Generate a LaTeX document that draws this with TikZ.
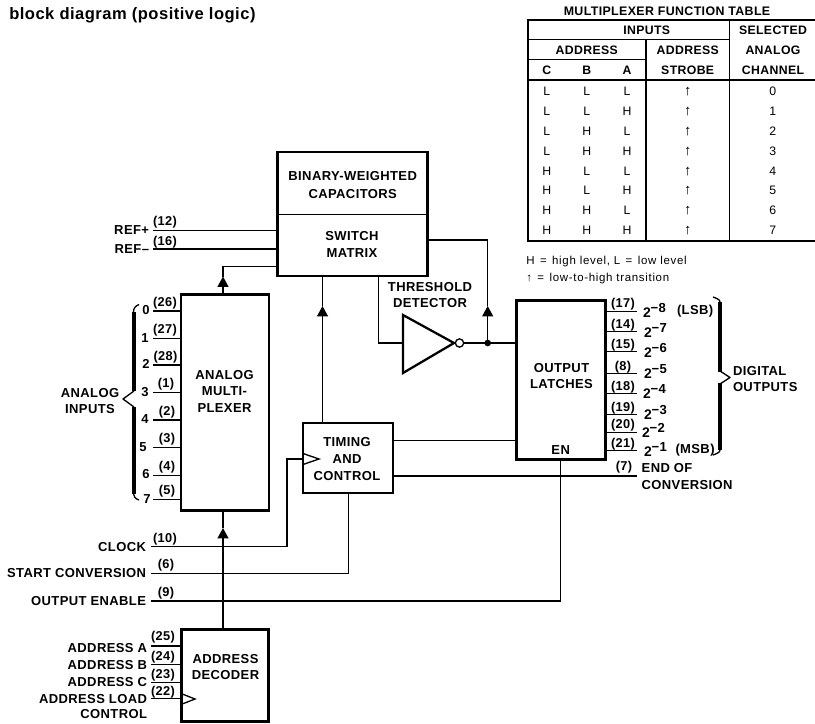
\documentclass[tikz,border=0pt]{standalone}
\usepackage{fontspec}
\setmainfont{Liberation Sans}[LetterSpace=3]
\usetikzlibrary{arrows.meta}
\newcommand{\labfont}{\fontsize{9.75}{12.4}\selectfont\bfseries}
\newcommand{\pinfont}{\fontsize{9.6}{12}\selectfont\bfseries}
\newcommand{\cellfont}{\fontsize{9.2}{12}\selectfont}
\newcommand{\headfont}{\fontsize{9.2}{12}\selectfont\bfseries}
\newcommand{\notefont}{\fontsize{8.6}{11}\selectfont\addfontfeature{LetterSpace=6}}
\newcommand{\expo}[2]{{\fontsize{10.4}{12}\selectfont\bfseries 2}\raisebox{3.8pt}{\fontsize{9.8}{10}\selectfont\bfseries−#1}#2}
\tikzset{
  x=0.75pt,y=-0.75pt,
  block/.style={draw=black,line width=2.2pt,fill=white,outer sep=0pt,inner sep=0pt,align=center,font=\labfont},
  wire/.style={draw=black,line width=1pt},
  upflow/.style={wire,-{Triangle[width=8.2pt,length=7.8pt]}},
  lab/.style={inner sep=0pt,outer sep=0pt,font=\labfont,text height=7pt,text depth=0pt},
  hlab/.style={inner sep=0pt,outer sep=0pt,font=\headfont,text height=6.8pt,text depth=0pt},
  mlab/.style={inner sep=0pt,outer sep=0pt,font=\labfont,align=center},
  pinnum/.style={inner sep=0pt,outer sep=0pt,font=\pinfont,text height=7pt,text depth=0pt},
  cell/.style={inner sep=0pt,outer sep=0pt,font=\cellfont,text height=6.8pt,text depth=0pt},
  rule/.style={draw=black,line width=1pt},
  bracebar/.style={draw=black,line width=3pt},
  bracetip/.style={draw=black,line width=1pt,line join=round},
}
\begin{document}
\begin{tikzpicture}
\fill[white] (0,0) rectangle (815,724);
\useasboundingbox (0,0) rectangle (815,724);

% title
\node[anchor=west,inner sep=0pt,font=\fontsize{12.4}{14}\selectfont\bfseries] (title) at (9,15) {block diagram (positive logic)};

% blocks
\node[block,minimum width=149.5*0.75pt,minimum height=124*0.75pt] (sm) at (352.7,214) {};
\node[lab] (cap1) at (352.7,176) {BINARY-WEIGHTED};
\node[lab] (cap2) at (352.7,193.5) {CAPACITORS};
\node[lab] (sw1) at (352,236) {SWITCH};
\node[lab] (sw2) at (352,252.5) {MATRIX};
\draw[wire] (sm.west |- 0,214.7) -- (sm.east |- 0,214.7);

\node[block,minimum width=88*0.75pt,minimum height=216.5*0.75pt] (mux) at (225,402.3) {};
\node[mlab] (muxt) at (224.5,391) {ANALOG\\MULTI-\\PLEXER};

\node[block,minimum width=90*0.75pt,minimum height=70*0.75pt] (tim) at (348,458) {};
\node[mlab] (timt) at (347,459) {TIMING\\AND\\CONTROL};

\node[block,minimum width=88.5*0.75pt,minimum height=158.5*0.75pt] (lat) at (561,380) {};
\node[mlab] (latt) at (561.5,376) {OUTPUT\\LATCHES};
\node[lab] (en) at (560.7,450) {EN};

\node[block,minimum width=87.5*0.75pt,minimum height=92.5*0.75pt] (dec) at (225,675.5) {};
\node[mlab] (dect) at (225.5,667) {ADDRESS\\DECODER};

% reference lines
\coordinate (refp) at (153,230.7);
\coordinate (refm) at (153,249);
\draw[wire] (refp) -- (refp -| sm.west);
\draw[wire] (refm) -- (refm -| sm.west);
\node[lab,anchor=east] (refpl) at (149,230) {REF+};
\node[lab,anchor=east] (refml) at (149,249) {REF--};
\node[pinnum] (p12) at (165,221) {(12)};
\node[pinnum] (p16) at (165,240.5) {(16)};

% mux to switch matrix
\coordinate (muxbend) at (223,266.7);
\coordinate (muxtip) at (223,276.5);
\draw[upflow] (mux.north -| muxbend) -- (muxtip);
\draw[wire] (muxtip) -- (muxbend) -- (muxbend -| sm.west);

% timing to switch matrix
\coordinate (timtip) at (322.5,306);
\draw[upflow] (tim.north -| timtip) -- (timtip);
\draw[wire] (timtip) -- (sm.south -| timtip);

% threshold detector
\coordinate (thin) at (403,343);
\coordinate (thtop) at (403,315);
\coordinate (thbot) at (403,373);
\coordinate (thtip) at (454,343);
\draw[draw=black,line width=1.7pt,line join=miter] (thtop) -- (thtip) -- (thbot) -- cycle;
\node[draw=black,line width=1pt,circle,minimum size=6.2pt,inner sep=0pt,outer sep=0pt,fill=white] (bub) at (459.5,343) {};
\coordinate (thbend) at (378.7,343);
\draw[wire] (sm.south -| thbend) -- (thbend) -- (thin);
\draw[wire] (bub.east) -- (bub.east -| lat.west);
\node[fill=black,circle,minimum size=5pt,inner sep=0pt,outer sep=0pt] (junc) at (487.7,343) {};
\coordinate (fbtip) at (487.7,306);
\coordinate (fbbend) at (487.7,240);
\draw[upflow] (junc) -- (fbtip);
\draw[wire] (fbtip) -- (fbbend) -- (fbbend -| sm.east);
\node[mlab] (thl) at (430,295) {THRESHOLD\\DETECTOR};

% timing links
\coordinate (tmr1) at (393,440.7);
\draw[wire] (tmr1) -- (tmr1 -| lat.west);
\coordinate (tmr2) at (393,476);
\coordinate (eoc) at (636.7,476);
\draw[wire] (tmr2) -- (eoc);
\node[pinnum] (p7) at (624,466) {(7)};
\node[lab,anchor=west] (eoc1) at (641.7,468) {END OF};
\node[lab,anchor=west] (eoc2) at (641.7,485) {CONVERSION};

% clock
\coordinate (clk) at (151,546.7);
\coordinate (clkb) at (287,546.7);
\coordinate (clkc) at (287,459);
\draw[wire] (clk) -- (clkb) -- (clkc) -- (clkc -| tim.west);
\draw[wire] (303,453.5) -- (319,459) -- (303,464.5);
\node[lab,anchor=east] (clkl) at (146,546.5) {CLOCK};
\node[pinnum] (p10) at (165,538) {(10)};

% start conversion
\coordinate (stc) at (151,573.5);
\coordinate (stcb) at (348.7,573.5);
\draw[wire] (stc) -- (stcb) -- (stcb |- tim.south);
\node[lab,anchor=east] (stcl) at (146,573) {START CONVERSION};
\node[pinnum] (p6) at (166,564) {(6)};

% output enable
\coordinate (oen) at (151,601);
\coordinate (oenb) at (560.7,601);
\draw[wire] (oen) -- (oenb) -- (oenb |- lat.south);
\node[lab,anchor=east] (oenl) at (146,600.5) {OUTPUT ENABLE};
\node[pinnum] (p9) at (166,592) {(9)};

% decoder to mux
\coordinate (dectip) at (223,528);
\draw[upflow] (dec.north -| dectip) -- (dectip);
\draw[wire] (dectip) -- (mux.south -| dectip);

% analog inputs
\foreach \n/\y/\nx/\ny/\p/\px in {0/311/146/310/26/165,1/338.3/145/337.5/27/165,2/365/146/363.5/28/165.5,3/392.7/145/391.5/1/166,4/420/145/419/2/167,5/447.7/143/446.5/3/167,6/475.3/146/473.5/4/167,7/499.3/147/498.5/5/167}{
  \coordinate (ai\n) at (153,\y);
  \draw[wire] (ai\n) -- (ai\n -| mux.west);
  \node[lab] (ain\n) at (\nx,\ny) {\n};
  \node[pinnum] (aip\n) at (\px,\y-9.5) {(\p)};
}
\draw[bracebar] (133.5,312) -- (133.5,391);
\draw[bracebar] (133.5,407) -- (133.5,494);
\draw[bracetip] (139,304.5) .. controls (135.5,306) and (133.5,308) .. (133.5,312);
\draw[bracetip] (139,500) .. controls (135.5,498.5) and (133.5,497) .. (133.5,494);
\draw[bracetip] (134,391) -- (123,399) -- (134,407);
\node[mlab] (ail) at (90,401) {ANALOG\\INPUTS};

% decoder inputs
\foreach \k/\y/\p/\py/\t/\ty in {a/646/25/636/ADDRESS A/647.7,b/664.3/24/655.5/ADDRESS B/665,c/682.7/23/674/ADDRESS C/682,d/698.7/22/690.5/ADDRESS LOAD/699}{
  \coordinate (adr\k) at (151,\y);
  \draw[wire] (adr\k) -- (adr\k -| dec.west);
  \node[lab,anchor=east] (adl\k) at (147,\ty) {\t};
  \node[pinnum] (adp\k) at (163,\py) {(\p)};
}
\node[lab,anchor=east] (adlc2) at (147,714) {CONTROL};
\draw[wire] (181,693.5) -- (195,699) -- (181,704.5);

% digital outputs
\foreach \k/\y/\p/\py/\e/\x in {8/311.7/17/303/8/643,7/331.7/14/324/7/644,6/351.7/15/343.7/6/644,5/373.3/8/365.7/5/644,4/393.3/18/385.7/4/643,3/414.3/19/406.7/3/644,2/432.3/20/424/2/642,1/450.7/21/442.7/1/644}{
  \coordinate (do\k) at (636.7,\y);
  \draw[wire] (do\k -| lat.east) -- (do\k);
  \node[pinnum] (dop\k) at (623,\py) {(\p)};
  \node[lab,anchor=west] (dol\k) at (\x,\y+1) {\expo{\e}{}};
}
\node[lab,anchor=west] (lsb) at (677,310) {(LSB)};
\node[lab,anchor=west] (msb) at (675.5,449) {(MSB)};
\draw[bracebar] (720,302) -- (720,372);
\draw[bracebar] (720,383) -- (720,450);
\draw[bracetip] (713,297) .. controls (717,298.5) and (720,299.5) .. (720,302);
\draw[bracetip] (713,455) .. controls (717,453.5) and (720,452.5) .. (720,450);
\draw[bracetip] (720,371) -- (730,377.5) -- (720,384);
\node[lab,anchor=west] (dgl1) at (733,370.7) {DIGITAL};
\node[lab,anchor=west] (dgl2) at (733,386.7) {OUTPUTS};

% function table
\node[lab] (tbt) at (667,11) {\fontsize{9.3}{12}\selectfont MULTIPLEXER FUNCTION TABLE};
\draw[line width=1.25pt] (815,20) -- (528,20) -- (528,240.7) -- (815,240.7);
\draw[rule] (528,39.3) -- (729.7,39.3);
\draw[rule] (528,59.3) -- (646,59.3);
\draw[rule] (528,80) -- (815,80);
\draw[line width=1.1pt] (646,39.3) -- (646,240.7);
\draw[line width=1.1pt] (729.7,20) -- (729.7,240.7);
\node[hlab] (h1) at (646.7,30) {INPUTS};
\node[hlab] (h2) at (773,30) {SELECTED};
\node[hlab] (h3) at (586.7,50) {ADDRESS};
\node[hlab] (h4) at (687.7,50) {ADDRESS};
\node[hlab] (h5) at (773,50) {ANALOG};
\node[hlab] (h6) at (546.7,70) {C};
\node[hlab] (h7) at (586.7,70) {B};
\node[hlab] (h8) at (627,70) {A};
\node[hlab] (h9) at (687.7,70) {STROBE};
\node[hlab] (h10) at (773,70) {CHANNEL};
\foreach \c/\b/\a/\v/\y in {L/L/L/0/90.7,L/L/H/1/110.7,L/H/L/2/130.7,L/H/H/3/150.7,H/L/L/4/170.7,H/L/H/5/190,H/H/L/6/210,H/H/H/7/230}{
  \node[cell] (rc\v) at (546.7,\y) {\c};
  \node[cell] (rb\v) at (586.7,\y) {\b};
  \node[cell] (ra\v) at (627,\y) {\a};
  \node[cell,font=\fontsize{11}{12}\selectfont\bfseries] (rs\v) at (687.7,\y) {↑};
  \node[cell] (rn\v) at (772.7,\y) {\v};
}
\node[anchor=west,inner sep=0pt,font=\notefont,text height=6pt,text depth=0pt] (n1) at (526,260.7) {H\hspace{1.2pt} = \hspace{1.2pt}high level, L\hspace{1.2pt} = \hspace{1.2pt}low level};
\node[anchor=west,inner sep=0pt,font=\notefont,text height=6pt,text depth=0pt] (n2) at (526,277) {↑\hspace{1.2pt} = \hspace{1.2pt}low-to-high transition};
\end{tikzpicture}
\end{document}
